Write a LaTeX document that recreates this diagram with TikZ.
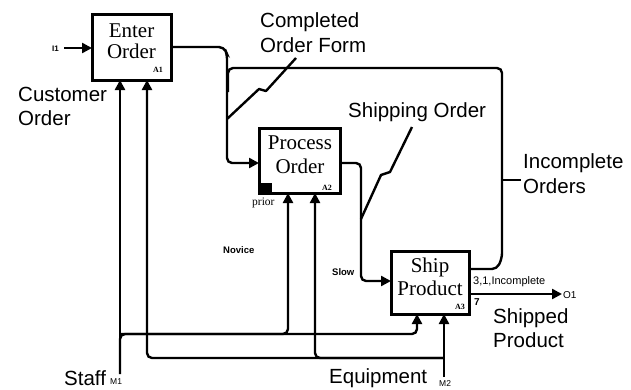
\documentclass[tikz,border=0pt]{standalone}
\usepackage{fontspec}
\setmainfont{Liberation Serif}
\setsansfont{Liberation Sans}
\usetikzlibrary{arrows.meta}
\begin{document}
\begin{tikzpicture}[x=1pt,y=-1pt,
  line width=2.4pt,
  arr/.style={-{Triangle[length=10pt,width=10pt]}},
  rc/.style={rounded corners=5pt},
  boxnode/.style={draw, line width=3pt, inner sep=0pt, outer sep=0pt},
  boxtxt/.style={font=\fontsize{21}{24}\selectfont, inner sep=0pt, anchor=base},
  lbl/.style={font=\sffamily\fontsize{20.5}{24}\selectfont, inner sep=0pt, anchor=base west},
  code/.style={font=\bfseries\fontsize{8}{9}\selectfont, inner sep=0pt, anchor=base west},
  small/.style={font=\sffamily\fontsize{8.5}{9}\selectfont, inner sep=0pt, anchor=base west},
  note/.style={font=\sffamily\bfseries\fontsize{9.5}{10}\selectfont, inner sep=0pt, anchor=base west},
  leader/.style={line width=2.4pt, line join=round}]
\useasboundingbox (0,0) rectangle (631,389);

% boxes
\node[boxnode, minimum width=79pt, minimum height=66pt] (A1) at (131.5,47) {};
\node[boxnode, minimum width=81pt, minimum height=65pt] (A2) at (299.5,160.5) {};
\node[boxnode, minimum width=78pt, minimum height=63pt] (A3) at (430,282.5) {};

\node[boxtxt] (t1a) at (131.5,37) {Enter};
\node[boxtxt] (t1b) at (131.5,58) {Order};
\node[boxtxt] (t2a) at (300,149) {Process};
\node[boxtxt] (t2b) at (300,173) {Order};
\node[boxtxt] (t3a) at (430,272) {Ship};
\node[boxtxt] (t3b) at (430,295) {Product};

\node[code] (c1) at (152,72) {A1};
\node[code] (c2) at (321,190) {A2};
\node[code] (c3) at (454,309) {A3};

% prior marker
\fill (261,183) rectangle (272,192);
\node[font=\fontsize{11.5}{12}\selectfont, inner sep=0pt, anchor=base west] (prior) at (251,205) {prior};

% input I1
\coordinate (i1) at (64,48);
\node[small, font=\sffamily\bfseries\fontsize{8}{9}\selectfont, anchor=base east] (li1) at (60,51) {I1};
\draw[arr] (i1) -- (i1 -| A1.west);

% A1 -> A2
\draw[arr, rc] (A1.east |- 0,47) -- (224,47) -- (227,54) -- (227,163) -- (A2.west |- 0,163);

% feedback: incomplete orders
\draw[rc] (A3.east |- 0,269) -- (497,269) -- (502,258) -- (502,68) -- (228,68) -- (228,92);

% A2 -> A3
\draw[arr, rc] (A2.east |- 0,163) -- (361,163) -- (361,281) -- (A3.west |- 0,281);

% A3 -> O1
\coordinate (o1) at (562,294);
\draw[arr] (A3.east |- o1) -- (o1);
\node[small, font=\sffamily\fontsize{10}{11}\selectfont] (lo1) at (562,298) {O1};

% Staff M1
\coordinate (m1) at (120,374);
\draw[arr] (m1) -- (m1 |- A1.south);
\draw[arr, rc] (m1) -- (120,334) -- (288,334) -- (288,0 |- A2.south);
\draw[arr, rc] (120,334) -- (417,334) -- (417,0 |- A3.south);

% Equipment M2
\coordinate (m2) at (444,377);
\draw[arr] (m2) -- (m2 |- A3.south);
\draw[arr, rc] (444,358) -- (315,358) -- (315,0 |- A2.south);
\draw[arr, rc] (444,358) -- (147,358) -- (147,0 |- A1.south);

% leaders
\draw[leader] (227,119) -- (259,89) -- (266,91) -- (296,58);
\draw[leader] (412,127) -- (390,172) -- (381,175) -- (361,219);
\draw[leader] (502,180) -- (521,180);

% labels
\node[lbl] (l1a) at (259,27) {Completed};
\node[lbl] (l1b) at (259,52) {Order Form};
\node[lbl] (l2a) at (17,101) {Customer};
\node[lbl] (l2b) at (17,125) {Order};
\node[lbl] (l3) at (347,117) {Shipping Order};
\node[lbl] (l4a) at (522,168) {Incomplete};
\node[lbl] (l4b) at (522,193) {Orders};
\node[lbl] (l5a) at (492,323) {Shipped};
\node[lbl] (l5b) at (492,347) {Product};
\node[lbl] (l6) at (63,385) {Staff};
\node[small] (l6m) at (109,384) {M1};
\node[lbl] (l7) at (328,383) {Equipment};
\node[small] (l7m) at (438,386) {M2};

\node[note] (nov) at (222,253) {Novice};
\node[note] (slow) at (331,275) {Slow};
\node[small, font=\sffamily\fontsize{11}{12}\selectfont] (inc) at (472,284) {3,1,Incomplete};
\node[small, font=\sffamily\bfseries\fontsize{10}{11}\selectfont] (seven) at (473,305) {7};
\end{tikzpicture}
\end{document}
